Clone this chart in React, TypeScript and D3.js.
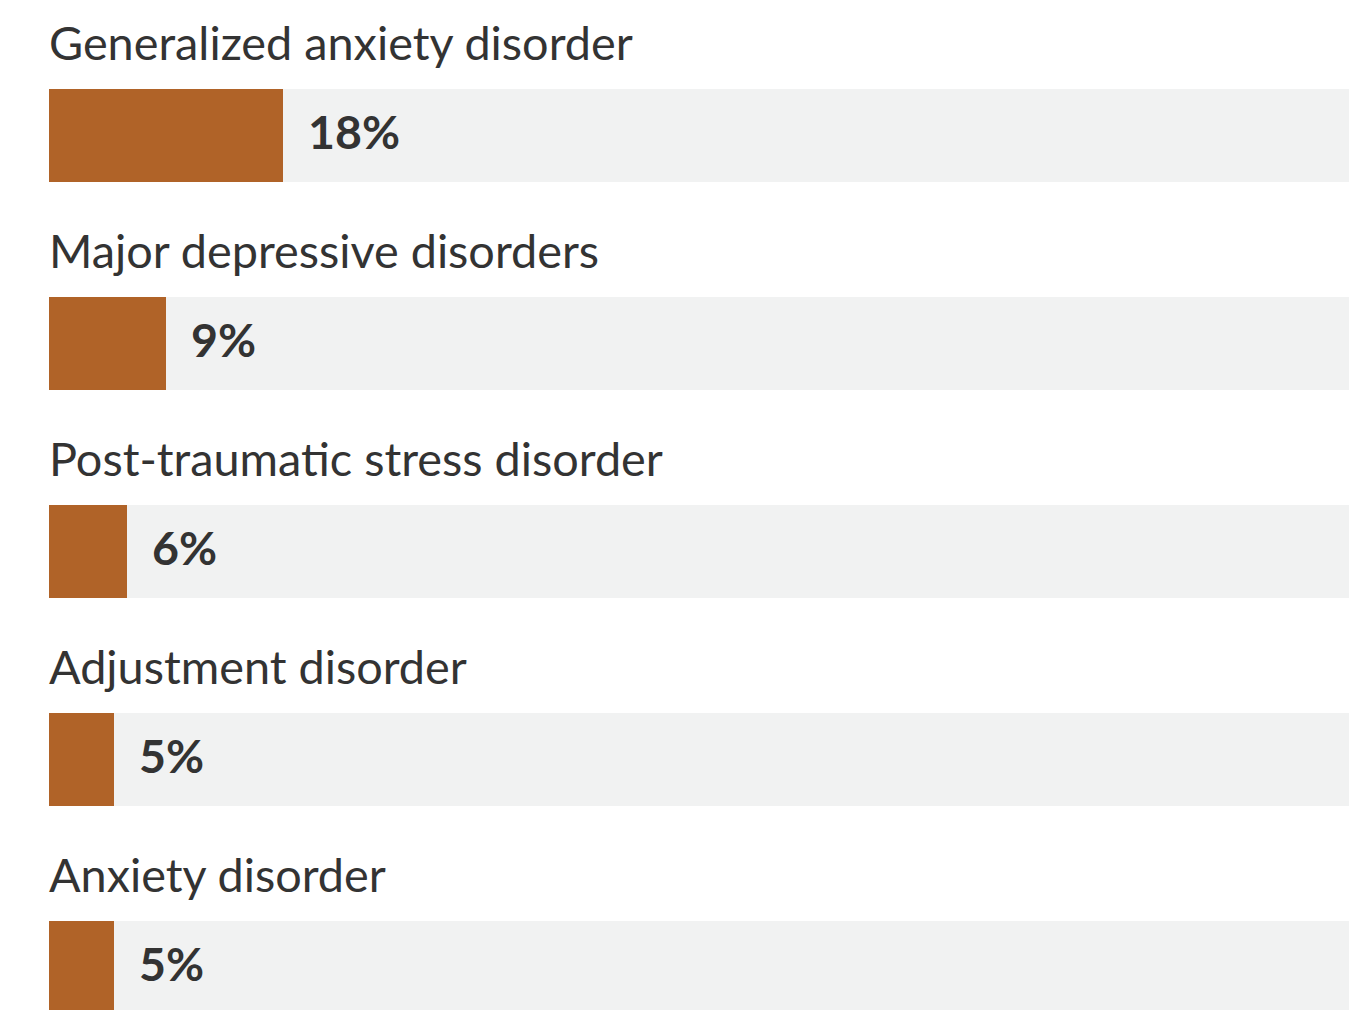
import React from "react";
import * as d3 from "d3";

const categories = [
  "Generalized anxiety disorder",
  "Major depressive disorders",
  "Post-traumatic stress disorder",
  "Adjustment disorder",
  "Anxiety disorder",
];
const values = [18, 9, 6, 5, 5];

const W = 1362;
const H = 1010;
const left = 49;
const right = 1349;
const rowPitch = 208;
const firstTop = 89;
const barH = 93;

export default function App() {
  const x = d3.scaleLinear().domain([0, 100]).range([left, right]);
  const y = d3
    .scaleBand<number>()
    .domain(d3.range(categories.length))
    .range([firstTop, firstTop + rowPitch * categories.length])
    .paddingInner(0)
    .paddingOuter(0);

  return (
    <svg
      width={W}
      height={H}
      style={{ position: "absolute", left: 0, top: 0, background: "#fff" }}
      fontFamily="Lato, 'Open Sans', sans-serif"
    >
      {categories.map((c, i) => {
        const top = y(i)!;
        return (
          <g key={c}>
            <text x={left} y={top - 29} fontSize={46.8} fill="#333333">
              {c}
            </text>
            <rect x={x(0)} y={top} width={x(100) - x(0)} height={barH} fill="#F1F2F2" />
            <rect x={x(0)} y={top} width={x(values[i]) - x(0)} height={barH} fill="#B06328" />
            <text
              x={x(values[i]) + 25}
              y={top + 60}
              fontSize={46.5}
              fontWeight={700}
              fill="#333333"
            >
              {values[i]}%
            </text>
          </g>
        );
      })}
    </svg>
  );
}
